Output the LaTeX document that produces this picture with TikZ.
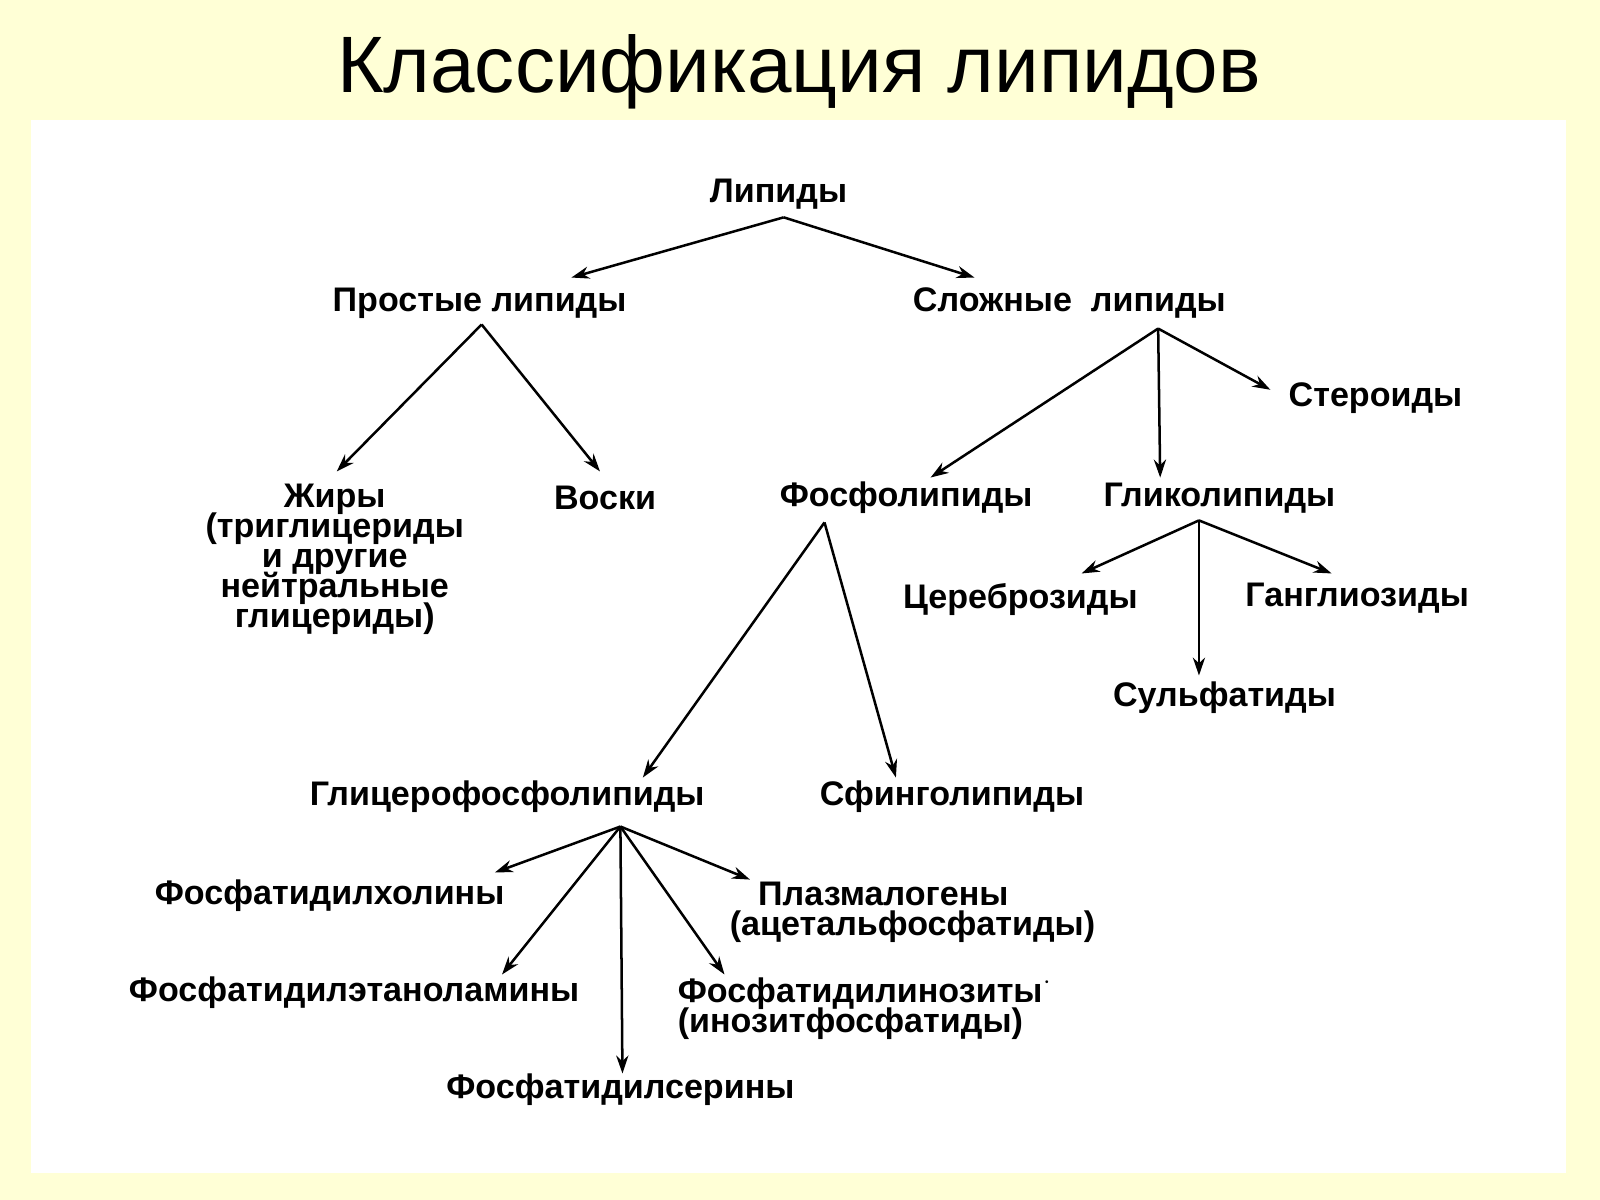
\documentclass[tikz,border=0pt]{standalone}
\usepackage{fontspec}
\setmainfont{Liberation Sans}
\usetikzlibrary{arrows.meta}
\definecolor{bgy}{HTML}{FFFFD6}
\newcommand\mytight{\lineskiplimit=-10pt\relax\lineskip=0pt\relax}
\begin{document}
\begin{tikzpicture}[x=0.01cm,y=-0.01cm,
  lbl/.style={font=\fontsize{9.5}{11}\selectfont\bfseries, inner sep=1pt, align=center},
  ml/.style={font=\fontsize{9.5}{8.4}\selectfont\bfseries\mytight},
  arr/.style={line width=0.7pt, -{Stealth[length=5pt,width=3.4pt]}}]
\fill[bgy] (0,0) rectangle (1568,1176);
\fill[white] (30,118) rectangle (1535,1150);
\useasboundingbox (0,0) rectangle (1568,1176);
\node[font=\fontsize{22.3}{26}\selectfont] (title) at (783,70) {Классификация липидов};
\node[lbl] (lip) at (763,190) {Липиды};
\node[lbl] (pro) at (470,297) {Простые липиды};
\node[lbl] (slo) at (1048,297) {Сложные\ \ липиды};
\node[lbl] (ste) at (1348,390) {Стероиды};
\node[lbl, ml] (zhi) at (328,548) {Жиры\\(триглицериды\\и другие\\нейтральные\\глицериды)};
\node[lbl] (vos) at (593,488) {Воски};
\node[lbl] (fos) at (888,488) {Фосфолипиды};
\node[lbl] (gli) at (1195,488) {Гликолипиды};
\node[lbl] (cer) at (1000,588) {Цереброзиды};
\node[lbl] (gan) at (1330,586) {Ганглиозиды};
\node[lbl] (sul) at (1200,684) {Сульфатиды};
\node[lbl] (gfl) at (497,781) {Глицерофосфолипиды};
\node[lbl] (sfi) at (933,781) {Сфинголипиды};
\node[lbl] (fho) at (323,878) {Фосфатидилхолины};
\node[lbl, ml, align=left, anchor=west] (pla) at (711,894) {\ \ \ Плазмалогены\\(ацетальфосфатиды)};
\node[lbl] (fet) at (347,973) {Фосфатидилэтаноламины};
\node[lbl, ml, align=left, anchor=west] (fin) at (660,988) {Фосфатидилинозиты$^{\cdot}$\\(инозитфосфатиды)};
\node[lbl] (fse) at (608,1068) {Фосфатидилсерины};
\coordinate (s1) at (768,213);
\coordinate (s2) at (472,318);
\coordinate (s3) at (1135,322);
\coordinate (s4) at (808,512);
\coordinate (s5) at (1175,510);
\coordinate (s6) at (608,810);
\coordinate (t1) at (560,272); \coordinate (t2) at (955,272);
\coordinate (t3) at (330,462); \coordinate (t4) at (588,462);
\coordinate (t5) at (912,468); \coordinate (t6) at (1137,468); \coordinate (t7) at (1245,382);
\coordinate (t8) at (630,762); \coordinate (t9) at (878,762);
\coordinate (t10) at (1060,562); \coordinate (t11) at (1175,662); \coordinate (t12) at (1305,562);
\coordinate (t13) at (485,855); \coordinate (t14) at (492,955); \coordinate (t15) at (610,1052);
\coordinate (t16) at (710,955); \coordinate (t17) at (735,862);
\foreach \s/\t in {s1/t1,s1/t2,s2/t3,s2/t4,s3/t5,s3/t6,s3/t7,s4/t8,s4/t9,s5/t10,s5/t11,s5/t12,s6/t13,s6/t14,s6/t15,s6/t16,s6/t17}
  \draw[arr] (\s) -- (\t);
\end{tikzpicture}
\end{document}
